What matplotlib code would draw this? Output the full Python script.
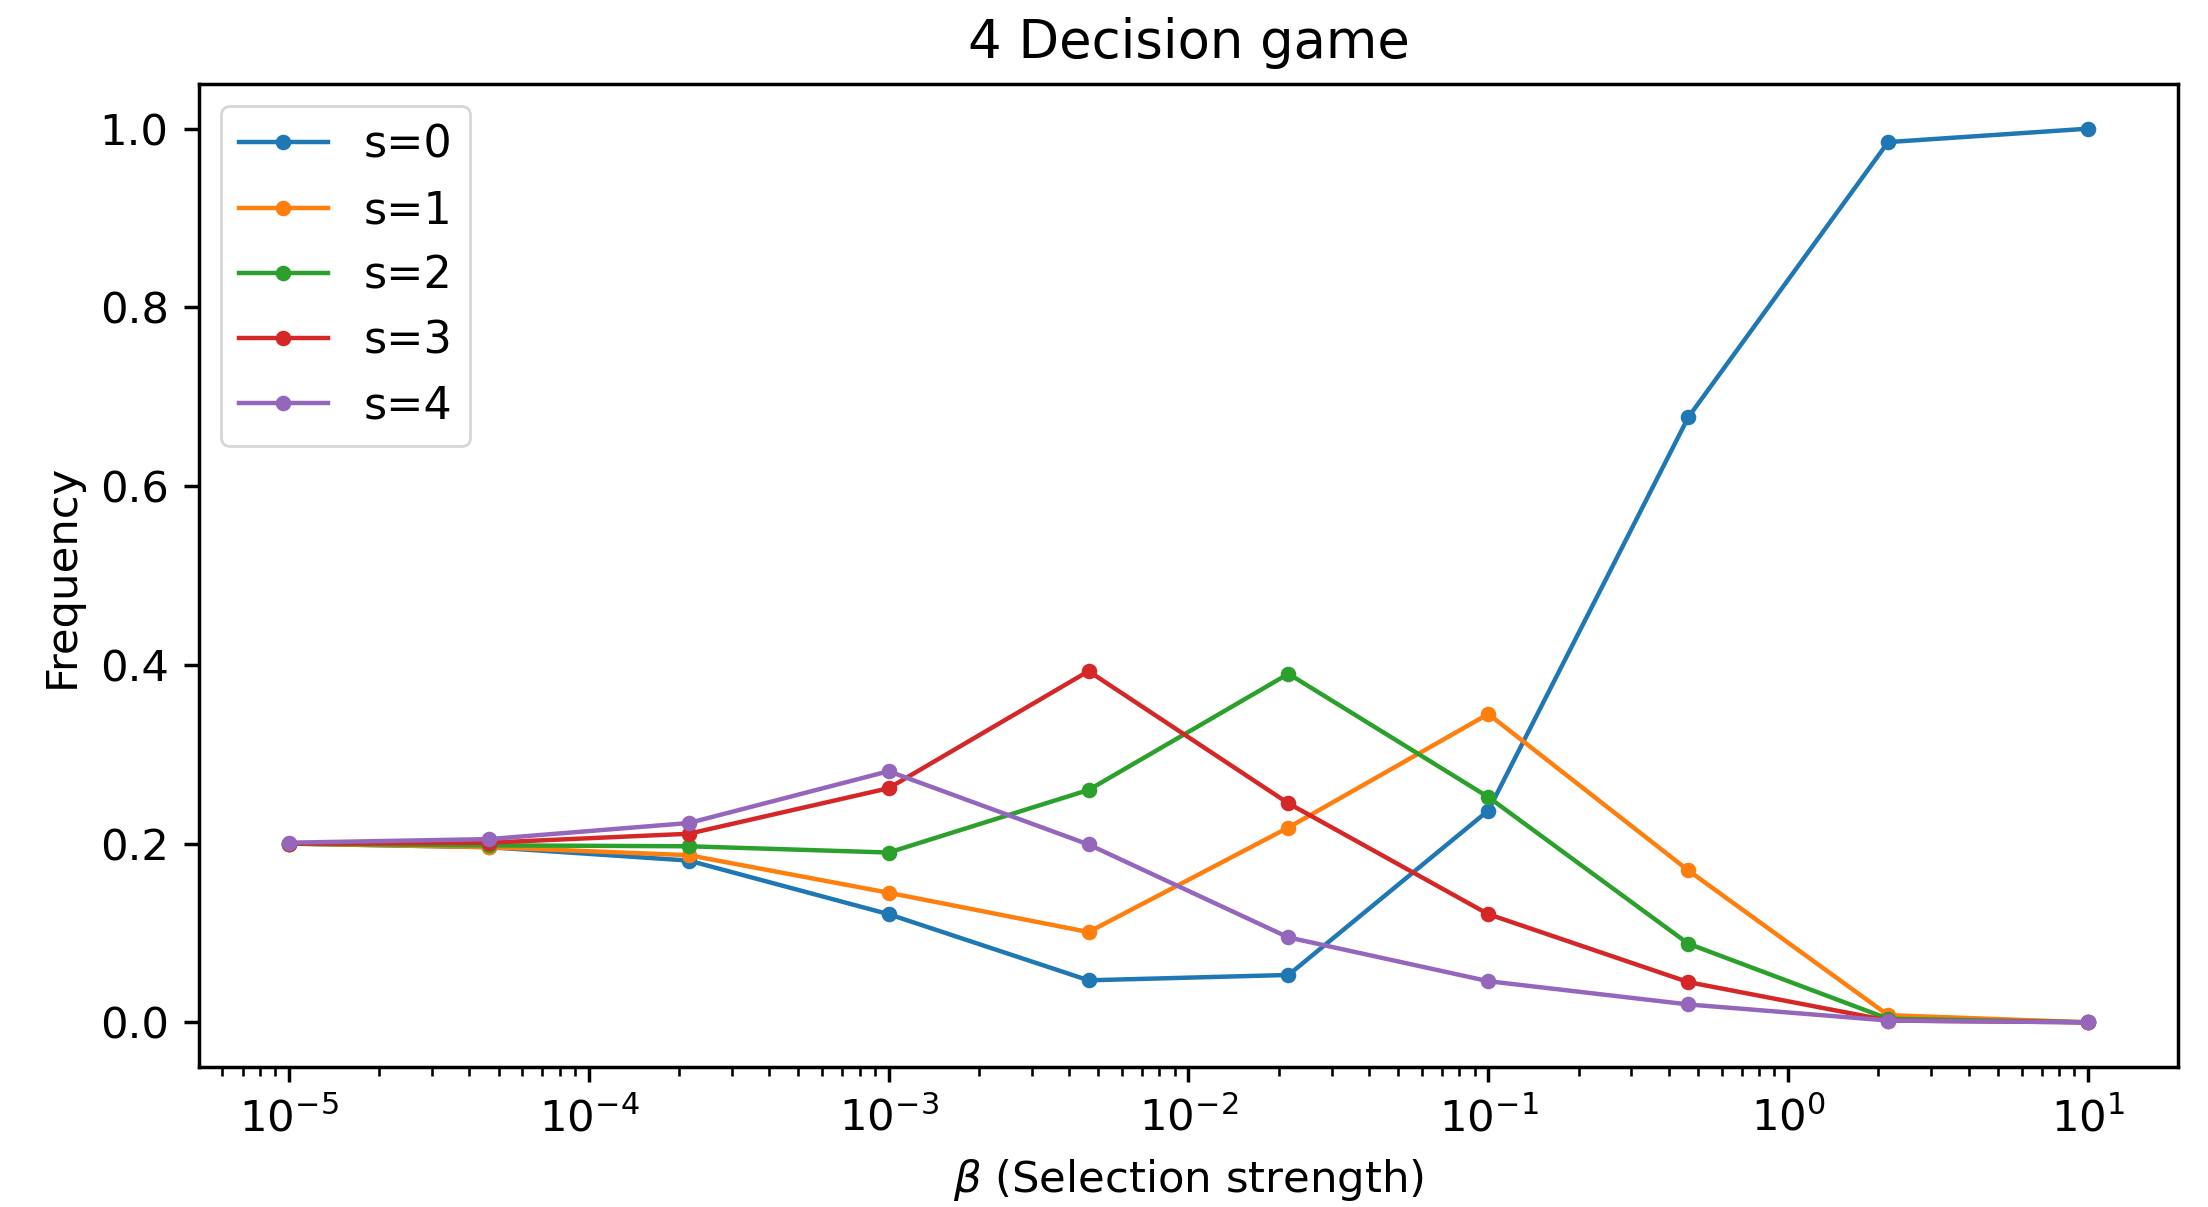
import matplotlib
matplotlib.use("Agg")
import matplotlib.pyplot as plt

beta = [1e-5, 4.6416e-5, 2.1544e-4, 1e-3, 4.6416e-3, 2.1544e-2, 0.1, 0.46416, 2.1544, 10.0]
labels = ["s=0", "s=1", "s=2", "s=3", "s=4"]
s0 = [0.200, 0.196, 0.181, 0.121, 0.047, 0.053, 0.237, 0.677, 0.985, 1.000]
s1 = [0.200, 0.196, 0.187, 0.145, 0.101, 0.218, 0.345, 0.170, 0.008, 0.000]
s2 = [0.200, 0.198, 0.197, 0.190, 0.260, 0.390, 0.252, 0.088, 0.004, 0.000]
s3 = [0.200, 0.201, 0.211, 0.262, 0.393, 0.245, 0.121, 0.045, 0.002, 0.000]
s4 = [0.201, 0.205, 0.223, 0.281, 0.199, 0.095, 0.046, 0.020, 0.002, 0.000]
series = [s0, s1, s2, s3, s4]

k = 1.56
fs = 15.6
fig = plt.figure(figsize=(11.04, 6.035), dpi=200)
ax = fig.add_axes([199/2208, 1 - 1067/1207, (2178-199)/2208, (1067-84)/1207])
for lab, ys in zip(labels, series):
    ax.plot(beta, ys, marker='o', markersize=4.6, linewidth=1.6, label=lab)
ax.set_xscale('log')
ax.set_title('4 Decision game', fontsize=fs * 1.22, pad=6 * k)
ax.set_xlabel(r'$\beta$ (Selection strength)', fontsize=fs, labelpad=4 * k)
ax.set_ylabel('Frequency', fontsize=fs, labelpad=4 * k)
ax.tick_params(labelsize=fs, width=0.8 * k, length=3.5 * k, pad=3.5 * k)
ax.tick_params(which='minor', width=0.6 * k, length=2 * k)
for sp in ax.spines.values():
    sp.set_linewidth(0.8 * k)
ax.legend(loc='upper left', fontsize=16)
fig.savefig('out.png', dpi=200)
